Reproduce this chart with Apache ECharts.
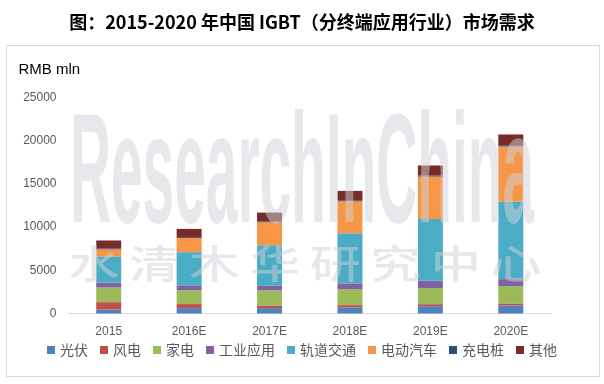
<!DOCTYPE html>
<html>
<head>
<meta charset="utf-8">
<script src="https://cdn.jsdelivr.net/npm/echarts@6/dist/echarts.min.js"></script>
<style>html,body{margin:0;padding:0;background:#fff}#c{width:604px;height:384px}</style>
</head>
<body>
<div id="c"></div>
<script>
const categories = ['2015', '2016E', '2017E', '2018E', '2019E', '2020E'];
const seriesNames = ['光伏', '风电', '家电', '工业应用', '轨道交通', '电动汽车', '充电桩', '其他'];
const pv        = [460, 620, 620, 700, 850, 930];
const wind      = [850, 470, 310, 270, 230, 230];
const appliance = [1700, 1590, 1740, 1820, 1860, 2010];
const industry  = [580, 580, 580, 700, 850, 810];
const rail      = [3020, 3840, 4650, 5810, 7140, 8950];
const ev        = [810, 1630, 2670, 3690, 4920, 6400];
const charger   = [100, 100, 100, 120, 120, 150];
const other     = [930, 960, 1010, 1080, 1160, 1240];
const yTicks = [0, 5000, 10000, 15000, 20000, 25000];
const colors = ['#4f81bd', '#c0504d', '#9bbb59', '#8064a2', '#4bacc6', '#f79646', '#2c4d75', '#772c2a'];
const values = [pv, wind, appliance, industry, rail, ev, charger, other];

const cjk = '"Noto Sans CJK SC", "Noto Sans", sans-serif';
const lat = '"Liberation Sans", "DejaVu Sans", sans-serif';
const wmChars = ['水', '清', '木', '华', '研', '究', '中', '心'];
const wmFill = 'rgba(208,210,215,0.5)';
const graphics = [
  { type: 'rect', shape: { x: 6.5, y: 45.5, width: 593, height: 331 }, style: { fill: 'none', stroke: '#d9d9d9', lineWidth: 1 }, z: 0, silent: true },
  { type: 'text', x: 70, y: 102, z: 100, silent: true, scaleX: 0.355, scaleY: 0.97,
    style: { text: 'ResearchInChina', font: 'bold 160px "Liberation Sans", sans-serif', fill: wmFill, textVerticalAlign: 'top' } }
];
wmChars.forEach((ch, i) => {
  graphics.push({ type: 'text', x: 94 + i * 60.3, y: 263, z: 100, silent: true, scaleX: 1.1, scaleY: 0.85,
    style: { text: ch, font: '500 46px "Noto Sans CJK SC", sans-serif', fill: wmFill, textAlign: 'center', textVerticalAlign: 'middle' } });
});

const chart = echarts.init(document.getElementById('c'));
chart.setOption({
  animation: false,
  backgroundColor: '#fff',
  title: {
    text: '图：2015-2020 年中国 IGBT（分终端应用行业）市场需求',
    left: 'center', top: 8,
    textStyle: { fontFamily: cjk, fontSize: 18, fontWeight: 'bold', color: '#000' }
  },
  graphic: graphics,
  legend: {
    data: seriesNames,
    bottom: 22, left: 'center',
    itemWidth: 8, itemHeight: 8, itemGap: 12,
    icon: 'rect',
    textStyle: { fontFamily: cjk, fontSize: 14, color: '#595959' }
  },
  grid: { left: 68.5, right: 53, top: 97.5, bottom: 70.5 },
  xAxis: {
    type: 'category', data: categories,
    axisLine: { lineStyle: { color: '#d9d9d9' } },
    axisTick: { show: false },
    axisLabel: { fontFamily: lat, fontSize: 12, color: '#595959', margin: 12 }
  },
  yAxis: {
    type: 'value', min: 0, max: 25000, interval: 5000,
    name: 'RMB mln', nameLocation: 'end', nameGap: 20,
    nameTextStyle: { fontFamily: lat, fontSize: 15, color: '#000', align: 'left', padding: [0, 0, 0, -50] },
    axisLine: { show: false }, axisTick: { show: false },
    splitLine: { show: false },
    axisLabel: { fontFamily: lat, fontSize: 12, color: '#595959', margin: 12,
      formatter: v => yTicks.includes(v) ? String(v) : '' }
  },
  series: seriesNames.map((n, i) => ({
    name: n, type: 'bar', stack: 'total', data: values[i], barWidth: 25,
    itemStyle: { color: colors[i] }
  }))
});
</script>
</body>
</html>
